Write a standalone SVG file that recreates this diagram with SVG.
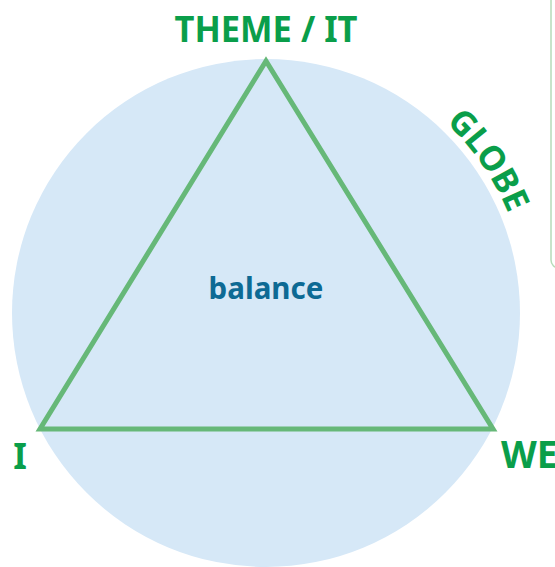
<svg xmlns="http://www.w3.org/2000/svg" width="555" height="567" viewBox="0 0 555 567">
  <style>
    .lbl { font-family: "Noto Sans", "Open Sans", "Liberation Sans", sans-serif; font-weight: 700; fill: #0a9e4a; }
    .mid { font-family: "Noto Sans", "Open Sans", "Liberation Sans", sans-serif; font-weight: 700; fill: #0d6a94; }
  </style>
  <defs>
    <path id="globeArc" d="M 266,51 A 262 262 0 0 1 528,313"/>
  </defs>
  <rect width="555" height="567" fill="#ffffff"/>

  <!-- side panel edge -->
  <g id="panel">
    <rect x="551" y="-12" width="30" height="280" rx="8" fill="#ffffff" stroke="#b5dcb9" stroke-width="1.5"/>
  </g>

  <!-- globe circle -->
  <g id="globe">
    <circle cx="266" cy="313" r="254" fill="#d6e8f7"/>
    <text class="lbl" font-size="34"><textPath href="#globeArc" startOffset="198">GLOBE</textPath></text>
  </g>

  <!-- triangle edges -->
  <g id="connectors">
    <polygon points="266,61 40,429 493,429" fill="none" stroke="#66b878" stroke-width="5" stroke-linejoin="miter"/>
  </g>

  <g id="theme">
    <text class="lbl" x="266" y="42" font-size="36" text-anchor="middle" textLength="183" lengthAdjust="spacingAndGlyphs">THEME / IT</text>
  </g>
  <g id="i">
    <text class="lbl" x="20" y="469" font-size="35" text-anchor="middle">I</text>
  </g>
  <g id="we">
    <text class="lbl" x="501" y="468" font-size="37">WE</text>
  </g>
  <g id="balance">
    <text class="mid" x="266" y="299" font-size="29.5" text-anchor="middle">balance</text>
  </g>
</svg>
